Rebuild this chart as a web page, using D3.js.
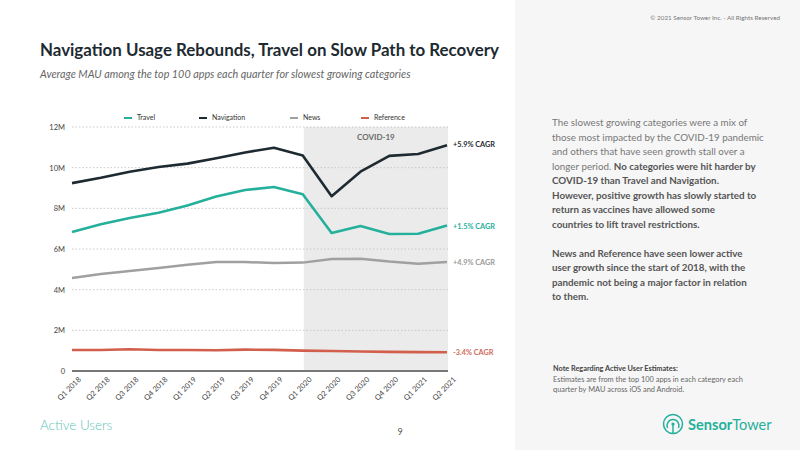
<!DOCTYPE html>
<html><head><meta charset="utf-8">
<script src="https://cdn.jsdelivr.net/npm/d3@7/dist/d3.min.js"></script>
<style>
body{margin:0;padding:0;background:#fff;}
svg{display:block;font-family:"Lato","Open Sans",sans-serif;}
</style></head><body>
<svg id="c" width="800" height="450"></svg>
<script>
const quarters = ["Q1 2018","Q2 2018","Q3 2018","Q4 2018","Q1 2019","Q2 2019","Q3 2019","Q4 2019","Q1 2020","Q2 2020","Q3 2020","Q4 2020","Q1 2021","Q2 2021"];
const travel = [6.84,7.22,7.52,7.78,8.14,8.58,8.9,9.05,8.69,6.79,7.13,6.74,6.75,7.16];
const navigation = [9.24,9.5,9.8,10.03,10.2,10.46,10.75,10.98,10.6,8.6,9.8,10.58,10.67,11.1];
const news = [4.57,4.77,4.92,5.07,5.22,5.36,5.36,5.31,5.33,5.51,5.52,5.38,5.28,5.36];
const reference = [1.03,1.03,1.07,1.03,1.03,1.02,1.05,1.04,1.0,0.98,0.96,0.94,0.93,0.92];
const yTicks = [0,2,4,6,8,10,12];
const seriesNames = ["Travel","Navigation","News","Reference"];
const seriesColors = ["#25b09c","#1e2a31","#a0a0a0","#d25f4c"];
const cagrLabels = ["+1.5% CAGR","+5.9% CAGR","+4.9% CAGR","-3.4% CAGR"];
const seriesData = [travel, navigation, news, reference];

const svg = d3.select("#c");
// right panel
svg.append("rect").attr("x",515).attr("y",0).attr("width",285).attr("height",450).attr("fill","#f6f6f6");

const x = d3.scalePoint().domain(quarters).range([72,447]);
const y = d3.scaleLinear().domain([0,12]).range([371,127]);

// covid shade
svg.append("rect").attr("x",x("Q1 2020")+1).attr("y",y(12)).attr("width",x("Q2 2021")-x("Q1 2020")).attr("height",y(0)-y(12)).attr("fill","#ebebeb");
svg.append("text").attr("x",(x("Q1 2020")+x("Q2 2021"))/2+1).attr("y",140).attr("text-anchor","middle").attr("font-size",8).attr("font-weight","bold").attr("fill","#6a6a6a").text("COVID-19");

// gridlines
svg.append("g").selectAll("line").data(yTicks.filter(d=>d>0)).join("line")
  .attr("x1",72).attr("x2",448).attr("y1",d=>y(d)).attr("y2",d=>y(d))
  .attr("stroke","#c8c8c8").attr("stroke-width",1).attr("stroke-dasharray","1.5,2");

// y axis labels
const yAxis = d3.axisLeft(y).tickValues(yTicks).tickSize(0).tickPadding(0).tickFormat(d=>d===0?"0":d+"M");
const gy = svg.append("g").attr("transform","translate(65,0)").call(yAxis);
gy.select(".domain").remove();
gy.selectAll("text").attr("font-size",7.5).attr("fill","#444").attr("font-family","Lato,sans-serif").attr("dy","0.35em");

// x axis
const xAxis = d3.axisBottom(x).tickSize(0).tickPadding(0);
const gx = svg.append("g").attr("transform","translate(0,371)").call(xAxis);
gx.select(".domain").remove();
gx.selectAll("text").attr("font-size",7.5).attr("fill","#444").attr("font-family","Lato,sans-serif")
  .attr("text-anchor","end").attr("dy",0).attr("transform","translate(9,9) rotate(-45)");
svg.append("line").attr("x1",72).attr("x2",448).attr("y1",371).attr("y2",371).attr("stroke","#777").attr("stroke-width",2);

// lines
const line = d3.line().x((d,i)=>x(quarters[i])).y(d=>y(d));
seriesData.forEach((s,k)=>{
  svg.append("path").datum(s).attr("d",line).attr("fill","none").attr("stroke",seriesColors[k])
    .attr("stroke-width",k===2?2.5:2.6).attr("stroke-linejoin","round");
});
// CAGR labels
const cagrY = [y(travel[13])+1, y(navigation[13])-1, y(news[13]), y(reference[13])];
seriesData.forEach((s,k)=>{
  svg.append("text").attr("x",453).attr("y",cagrY[k]).attr("dy","0.35em").attr("font-size",7.3).attr("font-weight","bold")
    .attr("fill",k===2?"#9a9a9a":(k===3?"#d06a5a":seriesColors[k])).text(cagrLabels[k]);
});

// legend
const legX = [124,199,290,361];
seriesNames.forEach((n,k)=>{
  svg.append("line").attr("x1",legX[k]).attr("x2",legX[k]+8).attr("y1",118).attr("y2",118).attr("stroke",seriesColors[k]).attr("stroke-width",2);
  svg.append("text").attr("x",legX[k]+13).attr("y",118).attr("dy","0.35em").attr("font-size",7).attr("fill","#333").text(n);
});

// titles
svg.append("text").attr("x",40).attr("y",56).attr("font-size",16.9).attr("font-weight","bold").attr("fill","#1e2a31").text("Navigation Usage Rebounds, Travel on Slow Path to Recovery");
svg.append("text").attr("x",40).attr("y",78).attr("font-size",10.8).attr("font-style","italic").attr("fill","#666").text("Average MAU among the top 100 apps each quarter for slowest growing categories");

svg.append("text").attr("x",40).attr("y",430).attr("font-size",13.4).attr("font-weight",300).attr("fill","#5cc6b4").text("Active Users");
svg.append("text").attr("x",400).attr("y",435).attr("font-size",9).attr("fill","#555").attr("text-anchor","middle").text("9");

// right panel text
svg.append("text").attr("x",780).attr("y",20).attr("text-anchor","end").attr("font-size",6.3).attr("fill","#777").text("© 2021 Sensor Tower Inc. - All Rights Reserved");

const para = [
 [["The slowest growing categories were a mix of",0]],
 [["those most impacted by the COVID-19 pandemic",0]],
 [["and others that have seen growth stall over a",0]],
 [["longer period. ",0],["No categories were hit harder by",1]],
 [["COVID-19 than Travel and Navigation.",1]],
 [["However, positive growth has slowly started to",1]],
 [["return as vaccines have allowed some",1]],
 [["countries to lift travel restrictions.",1]],
 [],
 [["News and Reference have seen lower active",1]],
 [["user growth since the start of 2018, with the",1]],
 [["pandemic not being a major factor in relation",1]],
 [["to them.",1]]
];
para.forEach((ln,i)=>{
  const t = svg.append("text").attr("x",552).attr("y",126+i*14.5).attr("font-size",9.8);
  ln.forEach(([s,b])=>{
    t.append("tspan").attr("font-weight",b?"bold":"normal").attr("fill",b?"#555":"#777").text(s);
  });
});

svg.append("text").attr("x",553).attr("y",371).attr("font-size",7.3).attr("font-weight","bold").attr("fill","#444").text("Note Regarding Active User Estimates:");
svg.append("text").attr("x",553).attr("y",382).attr("font-size",7.4).attr("fill","#666").text("Estimates are from the top 100 apps in each category each");
svg.append("text").attr("x",553).attr("y",392).attr("font-size",7.4).attr("fill","#666").text("quarter by MAU across iOS and Android.");

// logo
const lg = svg.append("g").attr("fill","none").attr("stroke","#25b09c").attr("stroke-width",1.5);
lg.append("circle").attr("cx",673).attr("cy",424).attr("r",9.5);
lg.append("path").attr("d","M667.5,428 A6,6 0 1 1 678.5,428");
lg.append("line").attr("x1",673).attr("x2",673).attr("y1",424).attr("y2",433.5);
svg.append("circle").attr("cx",673).attr("cy",424).attr("r",1.6).attr("fill","#25b09c");
const lt = svg.append("text").attr("x",688).attr("y",430).attr("font-size",14.6).attr("fill","#25b09c");
lt.append("tspan").attr("font-weight","bold").text("Sensor");
lt.append("tspan").attr("font-weight","normal").text("Tower");
</script>
</body></html>
